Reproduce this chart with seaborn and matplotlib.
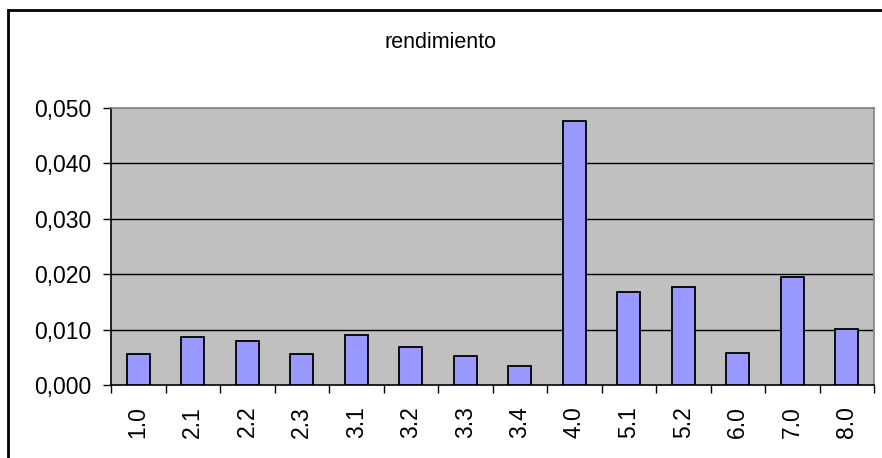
import matplotlib
matplotlib.use("Agg")
import matplotlib.pyplot as plt
import seaborn as sns
import pandas as pd
import numpy as np
from matplotlib.ticker import FixedLocator, FuncFormatter
from matplotlib.patches import Rectangle

categories = ["1.0", "2.1", "2.2", "2.3", "3.1", "3.2", "3.3", "3.4",
              "4.0", "5.1", "5.2", "6.0", "7.0", "8.0"]
values = [0.0055, 0.0087, 0.0080, 0.0055, 0.0090, 0.0069, 0.0052, 0.0034,
          0.0476, 0.0168, 0.0177, 0.0058, 0.0195, 0.0101]
y_ticks = [0.0, 0.01, 0.02, 0.03, 0.04, 0.05]
title = "rendimiento"

sns.set_theme(style="white")
plt.rcParams['font.family'] = ['Liberation Sans', 'DejaVu Sans']

W, H = 882, 458
fig = plt.figure(figsize=(W / 100, H / 100), dpi=100)
fig.patch.set_facecolor("white")
ax = fig.add_axes([111 / W, (H - 385) / H, (874 - 111) / W, (385 - 107.7) / H])
ax.set_facecolor("#C0C0C0")

df = pd.DataFrame({"cat": categories, "val": values})
sns.barplot(data=df, x="cat", y="val", color="#9999FF", width=0.415,
            edgecolor="black", linewidth=1.3, saturation=1, ax=ax, zorder=3)

ax.set_xlim(-0.5, len(categories) - 0.5)
ax.set_ylim(0, 0.05)
ax.set_yticks(y_ticks)
ax.yaxis.set_major_formatter(FuncFormatter(lambda v, p: f"{v:.3f}".replace(".", ",")))
for yv in y_ticks[1:-1]:
    ax.axhline(yv, color="black", linewidth=1.0, zorder=1)

ax.set_xticks(range(len(categories)))
ax.set_xticklabels(categories, rotation=90)
ax.xaxis.set_minor_locator(FixedLocator(np.arange(-0.5, len(categories), 1.0)))
ax.tick_params(axis="x", which="major", length=0, pad=15, labelsize=16.5, colors="black")
ax.tick_params(axis="x", which="minor", length=6, width=1, color="black", direction="out", bottom=True)
ax.tick_params(axis="y", which="major", length=6, width=1, color="black", direction="out",
               left=True, pad=8, labelsize=16.5, labelcolor="black")
ax.set_xlabel("")
ax.set_ylabel("")

for s in ["top", "right", "left", "bottom"]:
    ax.spines[s].set_visible(True)
    ax.spines[s].set_color("#808080")
    ax.spines[s].set_linewidth(1.2)
ax.spines["bottom"].set_color("black")
ax.spines["left"].set_color("black")

fig.text(441 / W, 1 - 43 / H, title, ha="center", va="center", fontsize=15.5, color="black")

fig.patches.append(Rectangle((8 / W, -0.1), 1.2, 1 - 10 / H + 0.1, transform=fig.transFigure,
                             fill=False, edgecolor="black", linewidth=2))

fig.savefig("out.png", dpi=100)
